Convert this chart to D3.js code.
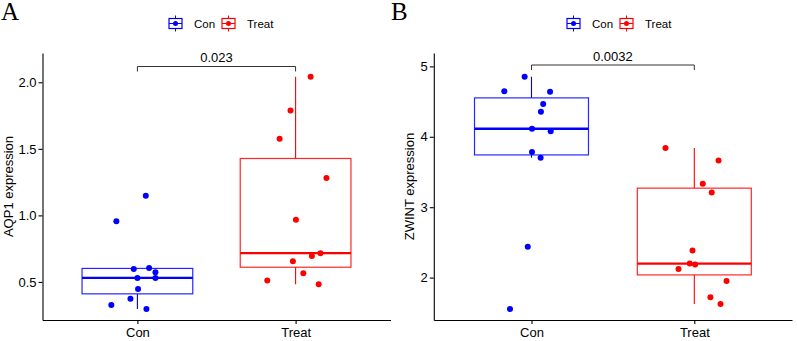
<!DOCTYPE html>
<html>
<head>
<meta charset="utf-8">
<script src="https://cdn.jsdelivr.net/npm/d3@7"></script>
<style>
  body { margin: 0; background: #fff; }
  text { font-family: "Liberation Sans", Arial, sans-serif; }
</style>
</head>
<body>
<div id="chart"></div>
<script>
// groups and colours
var groups = ["Con", "Treat"];
var groupColors = ["#0000ff", "#ff0000"];

// AQP1 values
var aqp1Con = [0.327, 0.956, 0.374, 0.598, 0.53, 0.447, 1.147, 0.297, 0.605, 0.573, 0.53];
var aqp1ConJit = [-0.165, -0.133, -0.044, -0.023, 0.0, 0.004, 0.053, 0.057, 0.074, 0.114, 0.114];
var aqp1Treat = [2.041, 1.788, 1.575, 1.28, 0.968, 0.656, 0.695, 0.716, 0.565, 0.51, 0.483];
var aqp1TreatJit = [0.095, -0.032, -0.101, 0.195, 0.002, -0.017, 0.103, 0.157, 0.049, -0.179, 0.146];
var aqp1Ticks = [0.5, 1.0, 1.5, 2.0];
var aqp1P = "0.023";

// ZWINT values
var zwintCon = [4.853, 4.645, 4.64, 4.465, 4.356, 4.114, 4.08, 3.783, 3.702, 2.44, 1.555];
var zwintConJit = [-0.042, -0.167, 0.114, 0.072, 0.058, 0.003, 0.118, 0.003, 0.056, -0.023, -0.132];
var zwintTreat = [3.84, 3.664, 3.332, 3.209, 2.384, 2.2, 2.185, 2.124, 1.953, 1.72, 1.626];
var zwintTreatJit = [-0.177, 0.149, 0.052, 0.107, -0.011, -0.028, 0.005, -0.097, 0.198, 0.099, 0.161];
var zwintTicks = [2, 3, 4, 5];
var zwintP = "0.0032";

var svg = d3.select("#chart")
    .append("svg")
    .attr("width", 797)
    .attr("height", 341);

function boxStats(vals) {
  var s = vals.slice().sort(d3.ascending);
  var q1 = d3.quantile(s, 0.25), med = d3.quantile(s, 0.5), q3 = d3.quantile(s, 0.75);
  var iqr = q3 - q1;
  var lo = d3.min(s.filter(function(v) { return v >= q1 - 1.5 * iqr; }));
  var hi = d3.max(s.filter(function(v) { return v <= q3 + 1.5 * iqr; }));
  return {q1: q1, med: med, q3: q3, lo: lo, hi: hi};
}

function drawPanel(p) {
  var x = d3.scalePoint().domain(groups).range(p.xRange).padding(0.6);
  var y = d3.scaleLinear().domain(p.yDomain).range([320, 53]);
  var bw = x.step() * 0.7;
  var g = svg.append("g");

  // panel letter
  g.append("text")
      .attr("x", p.letterX)
      .attr("y", 20)
      .style("font-family", "'Liberation Serif', 'Times New Roman', serif")
      .style("font-size", "25px")
      .text(p.letter);

  // axes
  var yAxis = g.append("g")
      .attr("transform", "translate(" + p.xRange[0] + ",0)")
      .call(d3.axisLeft(y).tickValues(p.ticks).tickSize(4).tickPadding(2)
        .tickFormat(p.fmt).tickSizeOuter(0));
  var xAxis = g.append("g")
      .attr("transform", "translate(0,320)")
      .call(d3.axisBottom(x).tickSize(4).tickPadding(4).tickSizeOuter(0));
  [xAxis, yAxis].forEach(function(a) {
    a.select(".domain").attr("stroke", "#000").attr("stroke-width", 1.1);
    a.selectAll(".tick line").attr("stroke", "#000").attr("stroke-width", 1.1);
    a.selectAll(".tick text").attr("fill", "#000")
        .style("font-family", "'Liberation Sans', Arial, sans-serif")
        .style("font-size", "13px");
  });

  g.append("text")
      .attr("transform", "translate(" + p.ylabX + ",186.5) rotate(-90)")
      .attr("text-anchor", "middle")
      .style("font-size", "13px")
      .text(p.ylab);

  // boxes
  p.series.forEach(function(vals, i) {
    var st = boxStats(vals);
    var cx = x(groups[i]);
    var col = groupColors[i];
    g.append("line")
        .attr("x1", cx).attr("x2", cx)
        .attr("y1", y(st.hi)).attr("y2", y(st.q3))
        .attr("stroke", col).attr("stroke-width", 1.1);
    g.append("line")
        .attr("x1", cx).attr("x2", cx)
        .attr("y1", y(st.q1)).attr("y2", y(st.lo))
        .attr("stroke", col).attr("stroke-width", 1.1);
    g.append("rect")
        .attr("x", cx - bw / 2)
        .attr("y", y(st.q3))
        .attr("width", bw)
        .attr("height", y(st.q1) - y(st.q3))
        .attr("fill", "#fff")
        .attr("stroke", col)
        .attr("stroke-opacity", 0.85)
        .attr("stroke-width", 1.2);
    g.append("line")
        .attr("x1", cx - bw / 2).attr("x2", cx + bw / 2)
        .attr("y1", y(st.med)).attr("y2", y(st.med))
        .attr("stroke", col).attr("stroke-width", 2.3);
  });

  // jittered points
  p.series.forEach(function(vals, i) {
    g.selectAll(".pt" + i)
      .data(vals)
      .enter().append("circle")
        .attr("cx", function(d, j) { return x(groups[i]) + p.jitter[i][j] * x.step(); })
        .attr("cy", function(d) { return y(d); })
        .attr("r", 3)
        .attr("fill", groupColors[i]);
  });

  // significance bracket
  var x1 = x(groups[0]), x2 = x(groups[1]);
  g.append("path")
      .attr("d", "M" + x1 + "," + (p.brY + 5) + "V" + p.brY + "H" + x2 + "V" + (p.brY + 5))
      .attr("fill", "none")
      .attr("stroke", "#333")
      .attr("stroke-width", 1);
  g.append("text")
      .attr("x", (x1 + x2) / 2)
      .attr("y", p.brY - 4.5)
      .attr("text-anchor", "middle")
      .style("font-size", "13px")
      .text(p.pval);

  // legend
  var lg = g.append("g");
  groups.forEach(function(name, i) {
    var lx = p.legendX[i], ly = 23.5;
    var col = groupColors[i];
    lg.append("line")
        .attr("x1", lx + 6.5).attr("x2", lx + 6.5)
        .attr("y1", ly - 8).attr("y2", ly + 8)
        .attr("stroke", col).attr("stroke-width", 1);
    lg.append("rect")
        .attr("x", lx).attr("y", ly - 5)
        .attr("width", 13).attr("height", 10)
        .attr("fill", "#fff").attr("stroke", col).attr("stroke-width", 1.2);
    lg.append("line")
        .attr("x1", lx).attr("x2", lx + 13)
        .attr("y1", ly).attr("y2", ly)
        .attr("stroke", col).attr("stroke-width", 1);
    lg.append("circle")
        .attr("cx", lx + 6.5).attr("cy", ly).attr("r", 2.5)
        .attr("fill", col);
    lg.append("text")
        .attr("x", lx + 25)
        .attr("y", ly + 4)
        .style("font-size", "11.5px")
        .text(name);
  });
}

drawPanel({
  letter: "A", letterX: 1,
  xRange: [42.5, 390.5],
  yDomain: [0.214, 2.22],
  ticks: aqp1Ticks, fmt: d3.format(".1f"),
  ylab: "AQP1 expression", ylabX: 13,
  series: [aqp1Con, aqp1Treat],
  jitter: [aqp1ConJit, aqp1TreatJit],
  brY: 66.5, pval: aqp1P,
  legendX: [169, 222]
});

drawPanel({
  letter: "B", letterX: 391,
  xRange: [433.8, 792],
  yDomain: [1.398, 5.19],
  ticks: zwintTicks, fmt: d3.format("d"),
  ylab: "ZWINT expression", ylabX: 414,
  series: [zwintCon, zwintTreat],
  jitter: [zwintConJit, zwintTreatJit],
  brY: 65, pval: zwintP,
  legendX: [567, 620]
});
</script>
</body>
</html>
